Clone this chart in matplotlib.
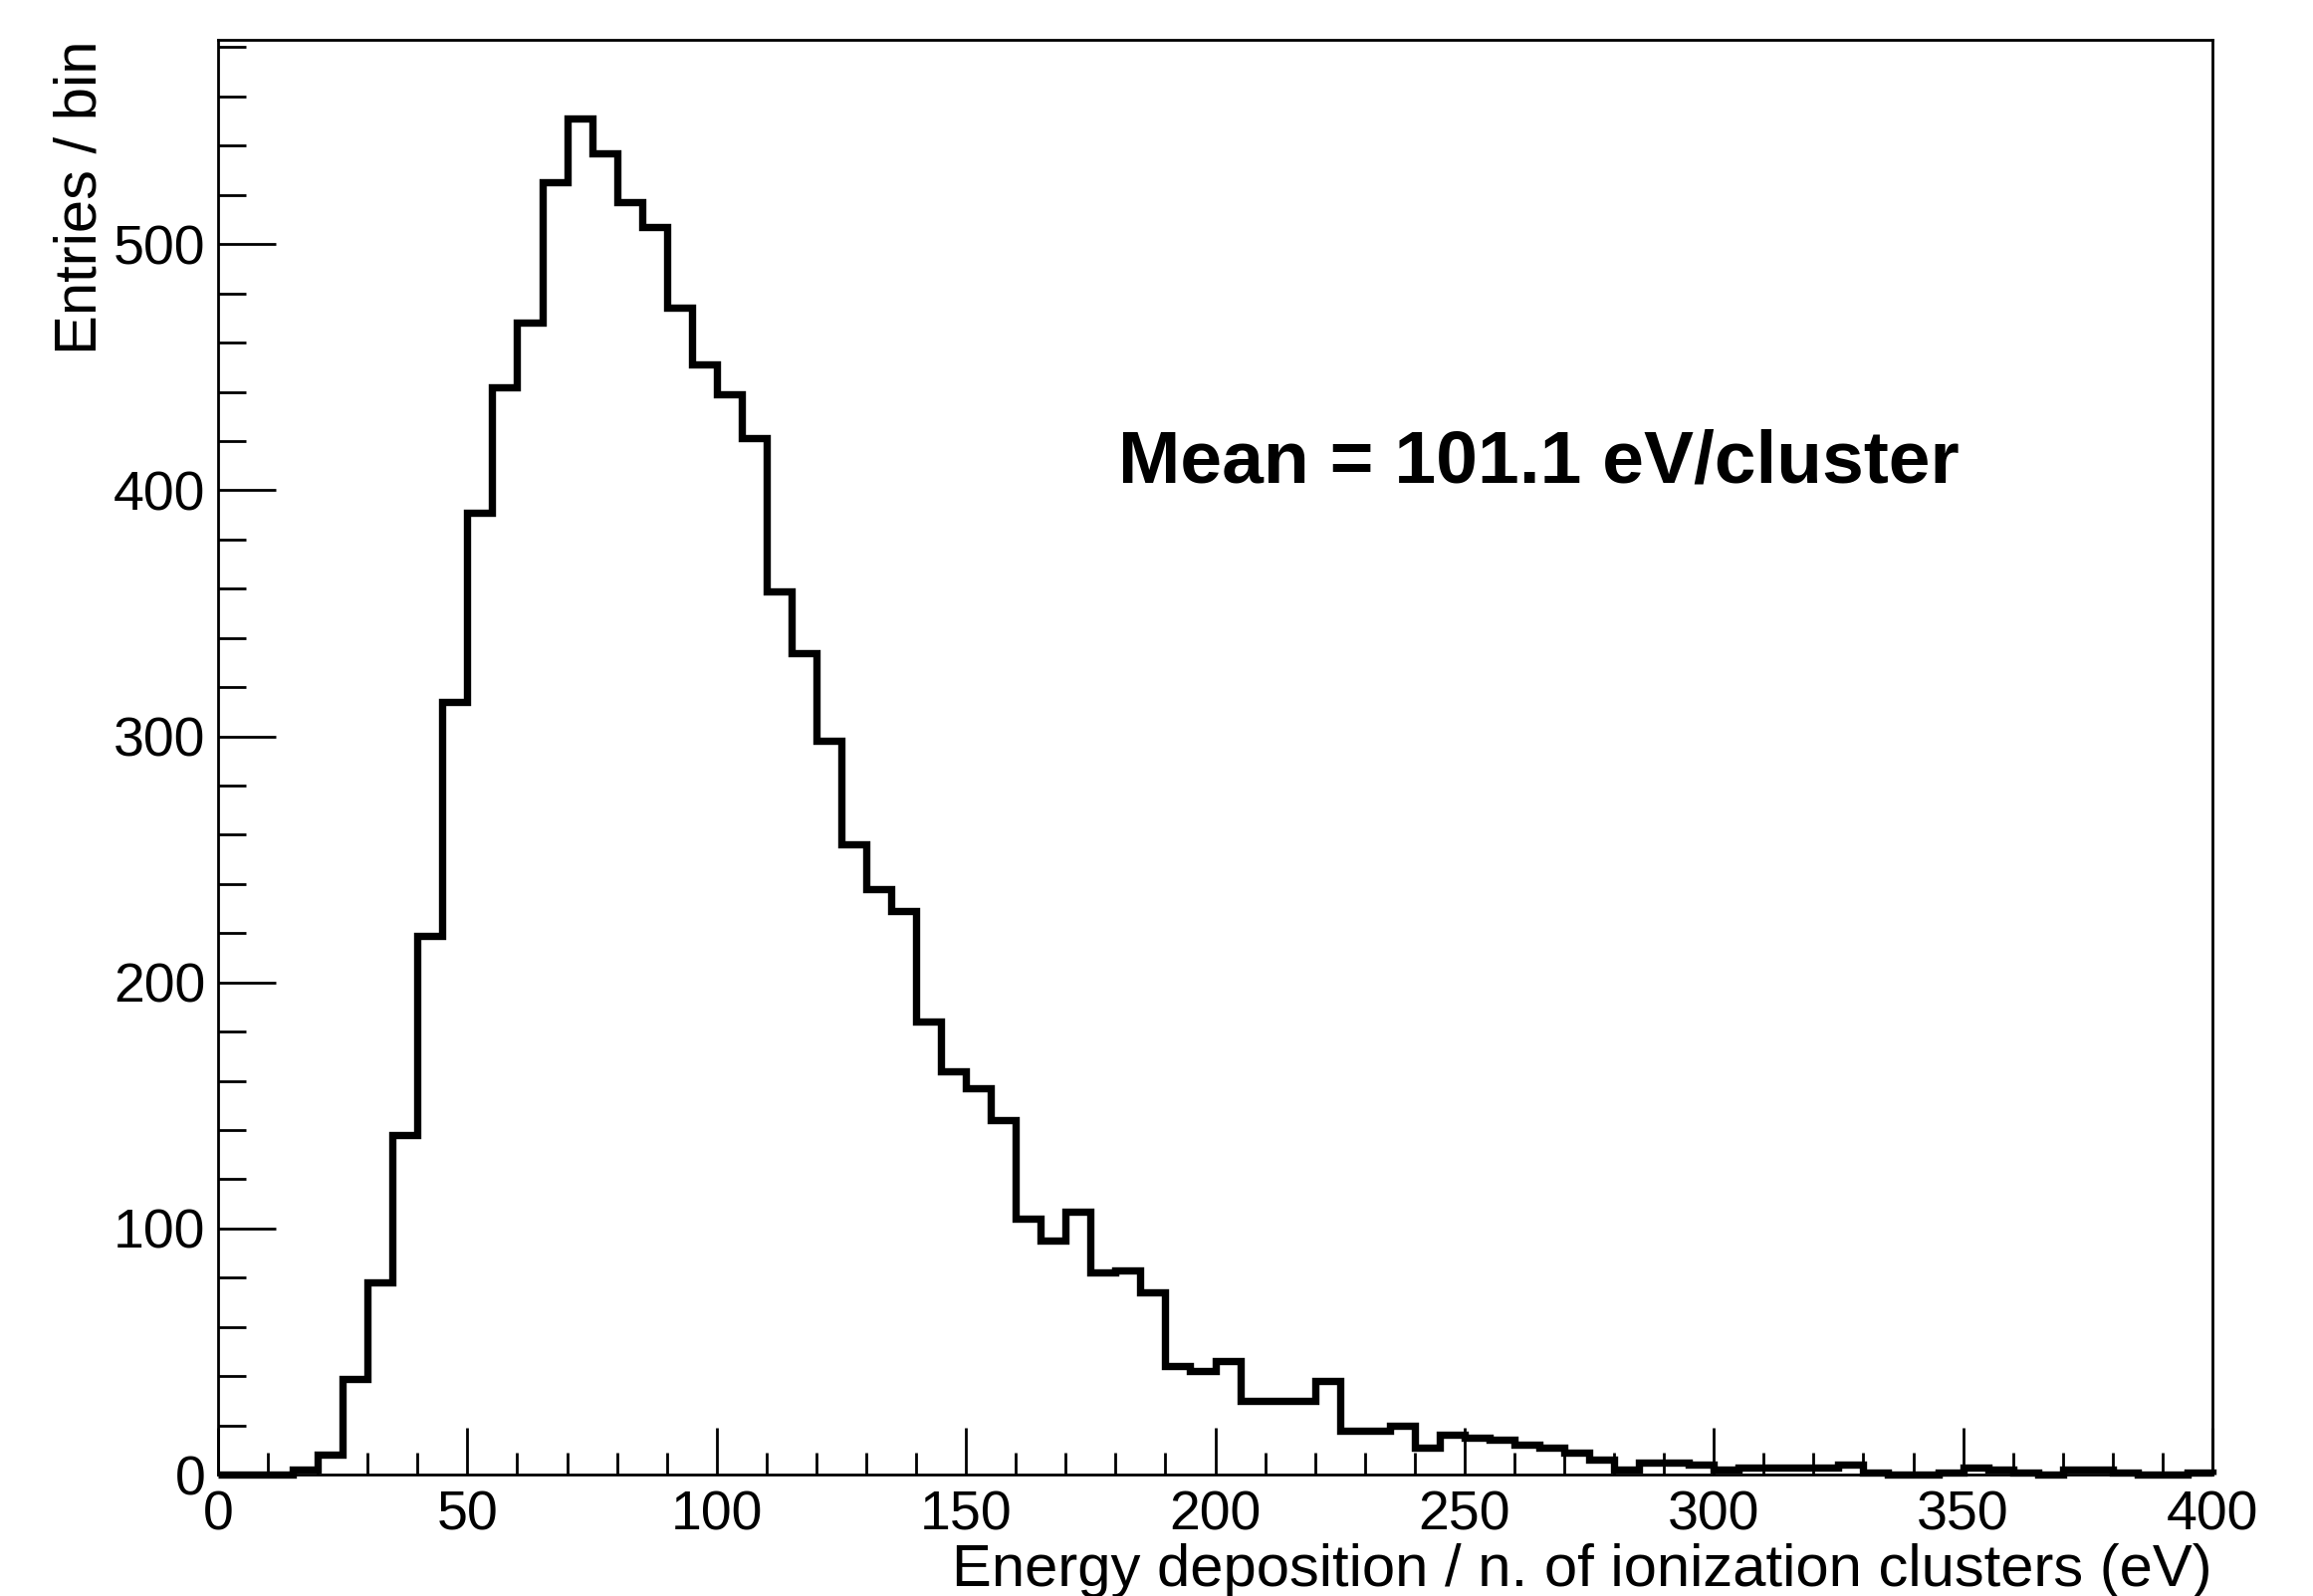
import numpy as np
import matplotlib
matplotlib.use("Agg")
import matplotlib.pyplot as plt
from matplotlib.ticker import MultipleLocator

# 5 eV bins from 0 to 400 eV
bin_edges = np.arange(0, 405, 5)
entries = [
    0, 0, 0, 2, 8, 39, 78, 138, 219, 314,
    391, 442, 468, 525, 551, 537, 517, 507, 474, 451,
    439, 421, 359, 334, 298, 256, 238, 229, 184, 164,
    157, 144, 104, 95, 107, 82, 83, 74, 44, 42,
    46, 30, 30, 30, 38, 18, 18, 20, 11, 16,
    15, 14, 12, 11, 9, 6, 2, 5, 5, 4,
    2, 3, 3, 3, 3, 4, 1, 0, 0, 1,
    3, 2, 1, 0, 2, 2, 1, 0, 0, 1,
]
mean_label = "Mean = 101.1 eV/cluster"
x_label = "Energy deposition / n. of ionization clusters (eV)"
y_label = "Entries / bin"

plt.rcParams["font.family"] = ["Liberation Sans", "DejaVu Sans"]

fig = plt.figure(figsize=(23.23, 16.03), dpi=100)
ax = fig.add_axes([0.0943, 0.0761, 0.8622, 0.8989])

ax.stairs(entries, bin_edges, color="black", lw=5.3, baseline=0, clip_on=False)

ax.set_xlim(0, 400)
ax.set_ylim(0, 583)

ax.xaxis.set_major_locator(MultipleLocator(50))
ax.xaxis.set_minor_locator(MultipleLocator(10))
ax.yaxis.set_major_locator(MultipleLocator(100))
ax.yaxis.set_minor_locator(MultipleLocator(20))

ax.tick_params(axis="both", which="both", direction="in", width=2, colors="black",
               labelsize=40, top=False, right=False)
ax.tick_params(axis="x", which="major", length=34, pad=11)
ax.tick_params(axis="x", which="minor", length=16)
ax.tick_params(axis="y", which="major", length=42, pad=9)
ax.tick_params(axis="y", which="minor", length=20)

for s in ax.spines.values():
    s.set_linewidth(2)

ax.text(180.5, 411, mean_label, fontsize=54, fontweight="bold", ha="left", va="center")

fig.text(0.9565, 0.0062, x_label, fontsize=43, ha="right", va="baseline")
fig.text(0.035, 0.975, y_label, fontsize=43, rotation=90, ha="center", va="top")

fig.savefig("out.png", dpi=100)
